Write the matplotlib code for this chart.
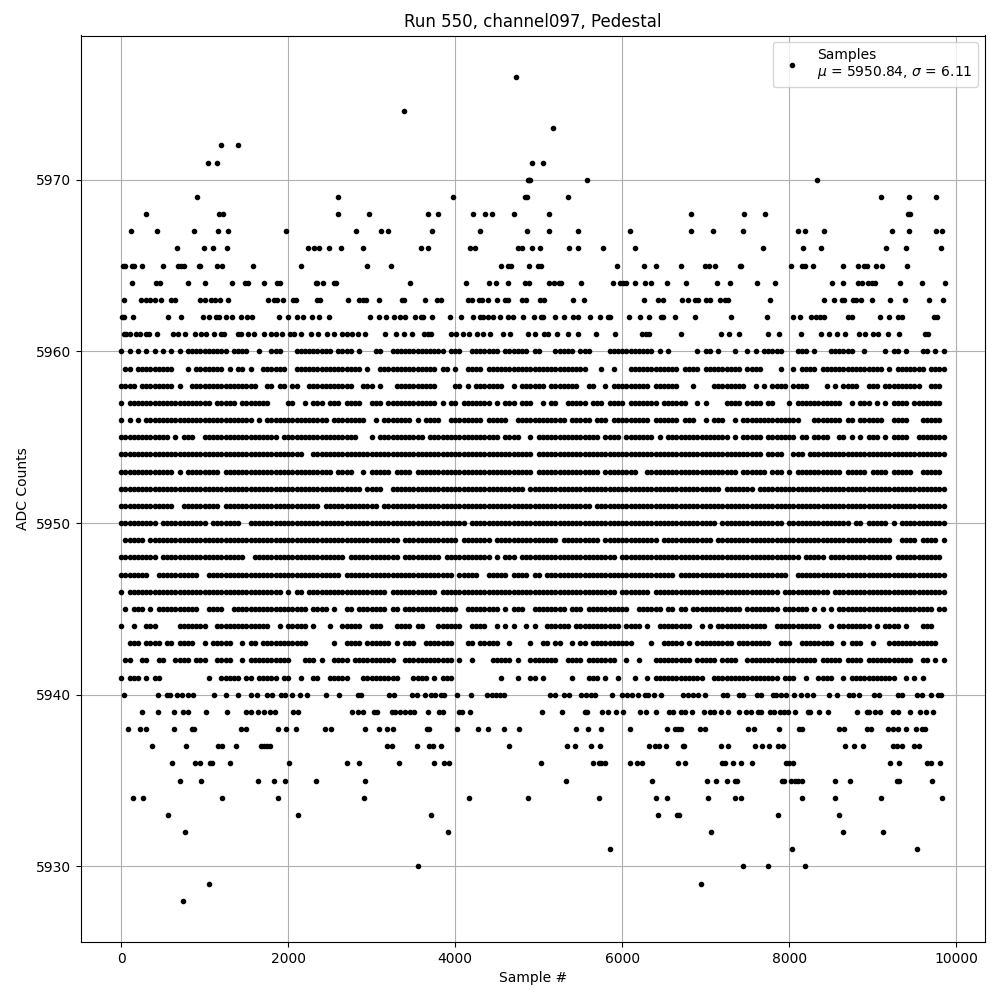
#!/usr/bin/env python3
"""Pedestal samples for one ADC channel, values read off the reference plot."""

import matplotlib
matplotlib.use('Agg')
import matplotlib.pyplot as plt

# Sparse ADC levels: sample numbers read one by one
sparse_samples = {
    5976: [4728],
    5974: [3392],
    5973: [5172],
    5972: [1196, 1400],
    5971: [1040, 1148, 4920, 5052],
    5970: [4872, 4890, 4900, 5580, 8336],
    5969: [908, 2600, 3972, 4832, 4856, 5352, 9104, 9440, 9764],
    5968: [296, 1168, 1224, 2600, 2972, 3672, 3792, 4212, 4356, 4440, 4704, 5124, 6828, 7460, 7712, 9420, 9448],
    5967: [116, 428, 872, 1160, 1280, 1976, 2816, 3116, 3196, 3720, 4296, 4860, 5124, 5472, 6096, 6828, 7088, 7448,
           8108, 8192, 8420, 9236, 9440, 9764, 9836],
    5966: [668, 992, 1100, 1268, 2240, 2312, 2372, 2492, 2636, 2900, 3588, 3672, 4176, 4236, 4752, 4800, 4920, 5016,
           5364, 5472, 5772, 6156, 7688, 8168, 8384, 9164, 9404, 9824],
    5965: [20, 48, 128, 152, 248, 500, 680, 712, 756, 932, 948, 1148, 1208, 1580, 2156, 2948, 3236, 4548, 4632, 4672,
           4884, 4992, 5032, 5940, 6264, 6408, 6708, 6992, 7040, 7112, 7408, 7428, 8024, 8156, 8188, 8288, 8648, 8828,
           8900, 8936, 9044, 9116, 9416],
    5964: [128, 412, 460, 800, 1004, 1328, 1480, 1520, 1712, 1868, 1908, 2328, 2340, 2420, 2548, 2572, 3460, 4128,
           4404, 4488, 4632, 4832, 4884, 5124, 5184, 5244, 5264, 5512, 5892, 5972, 6012, 6044, 6156, 6276, 6340, 6540,
           6768, 7136, 7292, 7616, 7832, 8516, 8648, 8828, 8868, 8948, 8996, 9032, 9332, 9596, 9860],
    5963: [32, 240, 300, 340, 400, 480, 600, 640, 948, 1000, 1072, 1120, 1180, 1280, 1760, 1832, 1872, 1940, 2060,
           2092, 2348, 2380, 2720, 2852, 2900, 2932, 3092, 3360, 3388, 3636, 3780, 3832, 4152, 4200, 4280, 4320, 4392,
           4500, 4592, 4632, 4800, 4852, 5016, 5064, 5412, 5544, 6264, 6432, 6492, 6720, 6788, 6868, 6908, 7008, 7056,
           7168, 7228, 7268, 7772, 8416, 8540, 8628, 8656, 8768, 8800, 8864, 8996, 9212, 9392, 9680, 9848],
    5962: [8, 36, 144, 564, 716, 980, 1052, 1132, 1172, 1260, 1328, 1436, 1508, 1572, 1892, 2000, 2108, 2180, 2288,
           2372, 2492, 2984, 3092, 3176, 3272, 3340, 3396, 3516, 3592, 3620, 3720, 3936, 4064, 4212, 4292, 4332, 4396,
           4452, 4536, 4632, 4692, 4812, 4944, 5024, 5052, 5196, 5304, 5412, 5472, 5616, 5736, 5832, 5860, 6084, 6216,
           6324, 6460, 6492, 6632, 6872, 7304, 7736, 8048, 8132, 8264, 8320, 8372, 8420, 8708, 8748, 9092, 9200, 9308,
           9356, 9736, 9776],
    5961: [28, 60, 108, 172, 228, 292, 332, 432, 620, 680, 760, 884, 960, 1020, 1112, 1192, 1228, 1400, 1440, 1520,
           1592, 1712, 1800, 1856, 1932, 2020, 2072, 2156, 2268, 2360, 2460, 2552, 2640, 2708, 2768, 2840, 2924, 3164,
           3296, 3392, 3484, 3632, 3672, 3712, 3952, 4004, 4092, 4164, 4260, 4332, 4412, 4572, 4660, 4872, 4952, 5060,
           5112, 5220, 5352, 5476, 5688, 5912, 6236, 6284, 6324, 6708, 7184, 7280, 7400, 7748, 7880, 8136, 8384, 8480,
           8568, 8672, 8840, 8908, 9000, 9068, 9188, 9320, 9628, 9660],
    5940: [32, 440, 548, 588, 668, 728, 800, 860, 1112, 1256, 1400, 1556, 1628, 1748, 1808, 1920, 1968, 2040, 2136,
           2228, 2456, 2612, 2840, 2868, 3212, 3272, 3484, 3540, 3636, 3708, 3756, 3832, 3872, 4020, 4188, 4380, 4444,
           4492, 4540, 4580, 5132, 5196, 5304, 5364, 5508, 5572, 5628, 5676, 5880, 6000, 6052, 6120, 6192, 6276, 6312,
           6384, 6468, 6728, 6788, 6848, 6908, 6992, 7208, 7256, 7400, 7448, 7616, 7660, 7808, 7848, 7900, 7960, 8060,
           8144, 8208, 8280, 8480, 8576, 8720, 8768, 8840, 9020, 9080, 9304, 9348, 9536, 9596, 9704, 9788, 9816],
    5939: [248, 440, 632, 740, 800, 1016, 1268, 1492, 1560, 1640, 1708, 1780, 1840, 2060, 2120, 2768, 2840, 2900,
           3032, 3060, 3240, 3280, 3340, 3400, 3460, 3512, 3672, 3804, 3852, 4044, 4080, 4176, 5040, 5284, 5560, 5584,
           5760, 5832, 5928, 6008, 6216, 6288, 6408, 6556, 6612, 6708, 6748, 6836, 6976, 7056, 7104, 7188, 7272, 7400,
           7488, 7548, 7628, 7660, 7772, 7820, 7888, 7936, 7984, 8068, 8228, 8248, 8360, 8468, 8816, 8928, 8960, 9032,
           9088, 9248, 9308, 9452, 9572, 9640, 9728],
    5938: [80, 224, 296, 632, 844, 876, 1436, 1492, 1880, 1976, 2096, 2444, 2516, 2924, 3092, 3188, 3260, 3660, 3692,
           4020, 4272, 4392, 4584, 4764, 5448, 5592, 5748, 6096, 6540, 6636, 6672, 6708, 6928, 6992, 7508, 7580, 7880,
           8120, 8148, 8600, 8660, 8936, 8976, 9188, 9248, 9300, 9396, 9524, 9588, 9628],
    5937: [368, 776, 1164, 1204, 1376, 1680, 1712, 1744, 1780, 3188, 3240, 3544, 3692, 3732, 3828, 4644, 5340, 5436,
           5628, 5736, 6324, 6396, 6444, 6528, 6724, 6744, 7184, 7268, 7592, 7676, 7760, 7868, 7928, 8672, 8780, 8888,
           9248, 9296, 9348, 9500, 9560],
    5936: [608, 884, 940, 1060, 1092, 1300, 2012, 2708, 2852, 3332, 3744, 3864, 3924, 5028, 5652, 5724, 5752, 5800,
           6096, 6172, 6232, 6672, 6756, 7196, 7232, 7328, 7424, 7556, 7960, 7992, 8048, 9212, 9320, 9656, 9696, 9812],
    5935: [704, 956, 1640, 1832, 1964, 2336, 2924, 5328, 6360, 7016, 7124, 7256, 7348, 7376, 7908, 7936, 8020, 8068,
           8108, 8148, 8552, 8732, 9296, 9320, 9716],
    5934: [140, 260, 1208, 1880, 2912, 4164, 4872, 5724, 6408, 6540, 7028, 7352, 7424, 8156, 8552, 9104, 9836],
    5933: [560, 2120, 3708, 6432, 6660, 6684, 7868, 8600],
    5932: [764, 3912, 7064, 8648, 9128],
    5931: [5856, 8036, 9536],
    5930: [3552, 7448, 7748, 8192],
    5929: [1052, 6944],
    5928: [740],
}

# Dense ADC levels: occupancy read per 50 samples, one block per 1000 samples
cell_width = 50
block_width = 1000
dense_rows = {
    5960: '#.#.#.#.#.#.#.#.#### ######.####..#..###. ..#########.####.#.. .##..#############.# ##..#######.######.# #...#####.###....### ########.#.#......#. ##.#...#..#.#.#####. ..###.#...######..#. ...#.##.#...##.#.#..',
    5959: '.##.#########...#.## #####.#.##.#..###### ..################.# ..##############.##. #..####.############ ############...#..#. ..############.####. #########.####....#. .#.####.############ ###.#.#######.####..',
    5958: '####.########.#..### #############..##.## .##..###########..## #.#...##########.... ##.#.#######..#.#### ##.#######..##..#.## #######.######...#.. ..########..#.#.#### .####....#.#.####..# ##.#########..###...',
    5957: '#.################## ##.#####.#######.... ##..#.###.###.####.. ###.############.#.# #.#######.#.###.###. .#.##..#####.###.### #.#######.######..#. #....####.####.##... #.###########..#.### .#.#.####.#######...',
    5956: '#.#.#.############## ############.#.##### ##########.########. .#.#######.#.####..# #######.#####..##### #######.#####.###.## #######.######.###.. #.###..#.########### ###...#######.##.### ###..####...#####...',
    5955: '############.#.###.. ##################.# #################... #.###########.###### ###########.####..#. ###############.#### .#######.#.######### ######.#.#####.##### ##.##.####..##.#.#.# ##.#.####..#######..',
    5954: '#################### #################### ####..############## #################### ###################. #################### #################### ##############.####. .###.############### ##################..',
    5953: '#############.#.#### ####.############### ###########.####..#. #####.####.######### ###################. ###############.#### ####..############## ########.######.###. #.###########.#####. ####.#####..#####...',
    5952: '#################### #################### ##################.# ###..############### #################.## #################### #################### ####.#######.####### #################### ##################..',
    5951: '#############..##### ####.############### ########.########### ##.################# #################### #############.###### #################### #################### #################### ##################..',
    5950: '#########.########## #.#######..######### #################### #################### ###.################ #################### #################### ###.###############. ###############.##.# ####.#.###########..',
    5949: '.#####.############# #################### #################### #######.############ #.#######.########## #####.#########.#### #########.########## ##.################# #################### #####..####.####.#..',
    5948: '#########.########## ##########..######## ##############.##### #######.#########.## #########.#.###.#### ###################. #################### #################### ###.#####.########## #####.###########...',
    5947: '#######..##########. .################### #############.###### #################### .#####..#####.####.# #.################## #############.###### #################### ..################## ##################..',
    5946: '#.################## ###################. #.##.############### ####.###########.### #################### ###################. #######.############ ##################.# ##########.######### ##################..',
    5945: '.#.###.#.##########. .####..############# #####.####.#..##.### ####.##.############ #..########.#.###..# #######.###.######## ##..######.##.##.### #########.########.# #####.#.#.#.######## ###############.##..',
    5944: '#..#..###.....###### #..#############..#. #####.#...#..#####.. ###...####.##...#### ##..####..#.#.#..#.# ..######.########### .####.#..########..# .#.############..### ########..#.######## .#.####.#...###.....',
    5943: '..###.####.##.####.. #.#####..#.##.###### #####......#..####.# #####.#.###..####### ...##.#####..#....#. .##.##..#.##.####### ###....#..#####.#.## #######.########..## #..########..#.###.. #...############....',
    5942: '.##..##..##..####.## #..####..#.######### #...###.#..####.#### ######..############ .#..#....#####.#..## #####..####.#######. .#..#...#########.## ###.####..########## #######.#####.####.# ##########..##.#.#..',
    5941: '#.###.#.##.......... .#..#####.##.#####.# #..#..##..#####...## #######...####.#.### ...........#...#..## .#......#...###.#..# ...#..#.############ ..################.# ##..#..####..#.##### ######..#.#.#.......',
}

mu = 5950.84
sigma = 6.11

samples = []
counts = []
for level, values in sparse_samples.items():
    samples += values
    counts += [level] * len(values)
for level, row in dense_rows.items():
    for b, block in enumerate(row.split()):
        for c, mark in enumerate(block):
            if mark == '#':
                samples.append(b * block_width + c * cell_width)
                counts.append(level)

fig, ax = plt.subplots(figsize=(10, 10), dpi=100)
ax.plot(samples, counts, 'k.', label=f'Samples\n$\\mu$ = {mu}, $\\sigma$ = {sigma}')
ax.set_xlim(-487, 10345)
ax.set_title('Run 550, channel097, Pedestal')
ax.set_xlabel('Sample #')
ax.set_ylabel('ADC Counts')
ax.grid(True)
ax.legend(loc='upper right')

fig.subplots_adjust(left=0.0805, right=0.985, bottom=0.058, top=0.9645)
plt.savefig('out.png', dpi=100)
